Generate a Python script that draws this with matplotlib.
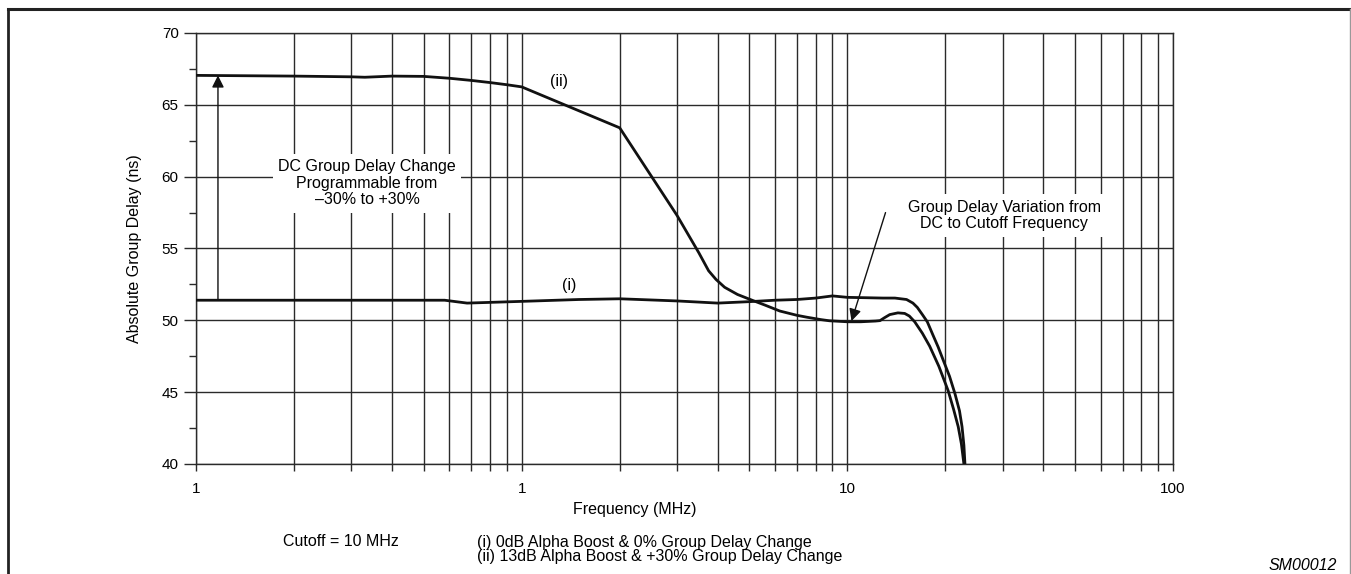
import numpy as np
import matplotlib
matplotlib.use('Agg')
import matplotlib.pyplot as plt
from matplotlib.lines import Line2D
from matplotlib.ticker import LogLocator, FixedLocator, NullFormatter

plt.rcParams['font.family'] = ['Liberation Sans', 'DejaVu Sans']

# curve (ii): 13dB alpha boost, +30% group delay
freq_ii = [0.1, 0.2, 0.3, 0.33, 0.4, 0.5, 0.6, 0.7, 0.8, 0.9, 1.0, 2.0, 3.0, 3.5,
           3.75, 3.95, 4.2, 4.6, 5.1, 5.6, 6.2, 7.0, 7.5, 8.3, 8.8, 10.0, 11.0,
           12.2, 12.6, 13.0, 13.5, 14.3, 15.0, 15.5, 16.1, 17.0, 17.9, 19.1,
           20.4, 21.2, 21.9, 22.4, 22.8]
delay_ii = [67.05, 67.0, 66.95, 66.92, 67.0, 66.98, 66.85, 66.7, 66.55, 66.4, 66.25,
            63.4, 57.3, 54.7, 53.45, 52.85, 52.3, 51.8, 51.4, 51.05, 50.65, 50.35,
            50.22, 50.05, 49.97, 49.9, 49.9, 49.95, 49.98, 50.18, 50.4, 50.52,
            50.48, 50.3, 49.9, 49.1, 48.2, 46.8, 45.1, 43.8, 42.6, 41.4, 40.0]

# curve (i): 0dB alpha boost, 0% group delay
freq_i = [0.1, 0.3, 0.58, 0.68, 0.8, 1.0, 1.5, 2.0, 3.0, 4.0, 5.0, 6.0, 7.0, 8.0,
          9.0, 10.0, 12.86, 14.0, 15.2, 15.9, 16.4, 17.0, 17.6, 18.3, 19.0, 19.8,
          20.6, 21.4, 22.1, 22.5, 22.8, 22.97]
delay_i = [51.4, 51.4, 51.4, 51.2, 51.25, 51.32, 51.45, 51.5, 51.35, 51.2, 51.3,
           51.4, 51.45, 51.55, 51.7, 51.6, 51.55, 51.55, 51.45, 51.2, 50.9, 50.4,
           49.9, 49.0, 48.15, 47.1, 46.1, 44.9, 43.7, 42.6, 41.3, 40.0]

x_ticks = [0.1, 1, 10, 100]
x_ticklabels = ["1", "1", "10", "100"]
y_ticks = [40, 45, 50, 55, 60, 65, 70]

W, H = 1351, 574
FS = 11.5
fig = plt.figure(figsize=(W / 100, H / 100), dpi=100)
ax = fig.add_axes([196 / W, 1 - 464 / H, (1173 - 196) / W, (464 - 33) / H])

grid_c = '#2a2a2a'
ax.plot(freq_ii, delay_ii, color='#111111', lw=2.0, zorder=3)
ax.plot(freq_i, delay_i, color='#111111', lw=2.0, zorder=3)

ax.set_xscale('log')
ax.set_xlim(0.1, 100)
ax.set_ylim(40, 70)
ax.xaxis.set_major_locator(FixedLocator(x_ticks))
ax.set_xticklabels(x_ticklabels)
ax.xaxis.set_minor_locator(LogLocator(base=10, subs=np.arange(2, 10)))
ax.xaxis.set_minor_formatter(NullFormatter())
ax.set_yticks(y_ticks)
ax.set_yticks(np.arange(42.5, 70, 5), minor=True)

ax.grid(True, which='major', color=grid_c, lw=1.0)
ax.grid(True, which='minor', axis='x', color=grid_c, lw=1.0)
ax.tick_params(axis='x', which='both', direction='out', length=5, width=1.0,
               color=grid_c, labelsize=11, pad=8)
ax.tick_params(axis='y', which='major', direction='out', length=8.5, width=1.0,
               color=grid_c, labelsize=11, pad=4)
ax.tick_params(axis='y', which='minor', direction='out', length=5, width=1.0, color=grid_c)
for s in ax.spines.values():
    s.set_color(grid_c)
    s.set_linewidth(1.0)

ax.set_xlabel('Frequency (MHz)', fontsize=FS)
ax.xaxis.set_label_coords(0.449, -0.088)
ax.set_ylabel('Absolute Group Delay (ns)', fontsize=FS)
ax.yaxis.set_label_coords(-0.055, 0.5)

# DC arrow
ax.annotate('', xy=(0.1168, 67.05), xytext=(0.1168, 51.4),
            arrowprops=dict(arrowstyle='-|>', color='#111111', lw=1.0,
                            mutation_scale=18, shrinkA=0, shrinkB=0), zorder=4)
ax.text(0.335, 59.55, 'DC Group Delay Change\nProgrammable from\n\u201330% to +30%',
        ha='center', va='center', fontsize=FS, linespacing=1.12, zorder=5,
        bbox=dict(boxstyle='square,pad=0.35', fc='white', ec='none'))

ax.annotate('', xy=(10.3, 49.95), xytext=(13.1, 57.5),
            arrowprops=dict(arrowstyle='-|>', color='#111111', lw=1.0,
                            mutation_scale=18, shrinkA=0, shrinkB=0), zorder=4)
ax.text(30.3, 57.3, 'Group Delay Variation from\nDC to Cutoff Frequency',
        ha='center', va='center', fontsize=FS, linespacing=1.12, zorder=5,
        bbox=dict(boxstyle='square,pad=0.35', fc='white', ec='none'))

ax.text(1.3, 66.6, '(ii)', ha='center', va='center', fontsize=FS, zorder=5)
ax.text(1.4, 52.4, '(i)', ha='center', va='center', fontsize=FS, zorder=5)

# footnotes
fig.text(283 / W, 1 - 542 / H, 'Cutoff = 10 MHz', ha='left', va='center', fontsize=FS)
fig.text(477 / W, 1 - 542 / H, '(i) 0dB Alpha Boost & 0% Group Delay Change',
         ha='left', va='center', fontsize=FS)
fig.text(477 / W, 1 - 557 / H, '(ii) 13dB Alpha Boost & +30% Group Delay Change',
         ha='left', va='center', fontsize=FS)
fig.text(1337 / W, 1 - 565 / H, 'SM00012', ha='right', va='center', fontsize=FS,
         style='italic')

# page frame
fig.add_artist(Line2D([8 / W, 8 / W], [0, 1 - 9 / H], transform=fig.transFigure,
                      color='#222222', lw=2.0))
fig.add_artist(Line2D([8 / W, 1], [1 - 9 / H, 1 - 9 / H], transform=fig.transFigure,
                      color='#222222', lw=2.2))
fig.add_artist(Line2D([1350 / W, 1350 / W], [0, 1 - 9 / H], transform=fig.transFigure,
                      color='#999999', lw=1.0))

fig.savefig('out.png', dpi=100)
